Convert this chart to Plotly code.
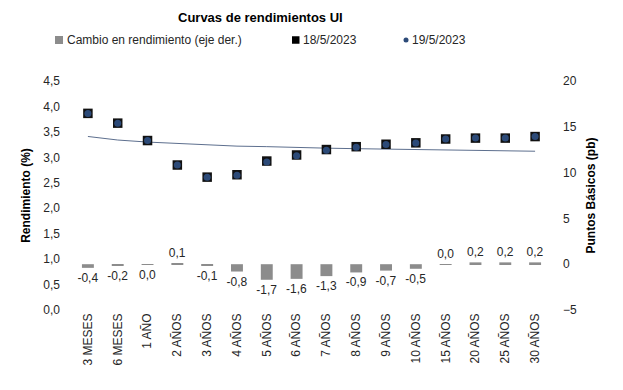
import plotly.graph_objects as go

categorias = ["3 MESES", "6 MESES", "1 AÑO", "2 AÑOS", "3 AÑOS", "4 AÑOS", "5 AÑOS",
              "6 AÑOS", "7 AÑOS", "8 AÑOS", "9 AÑOS", "10 AÑOS", "15 AÑOS",
              "20 AÑOS", "25 AÑOS", "30 AÑOS"]
rend_18 = [3.864, 3.672, 3.330, 2.849, 2.611, 2.658, 2.927, 3.046, 3.153, 3.209,
           3.257, 3.285, 3.360, 3.378, 3.378, 3.408]
rend_19 = [3.860, 3.670, 3.330, 2.850, 2.610, 2.650, 2.910, 3.030, 3.140, 3.200,
           3.250, 3.280, 3.360, 3.380, 3.380, 3.410]
tendencia = [3.41, 3.34, 3.30, 3.27, 3.24, 3.22, 3.21, 3.19, 3.18, 3.17, 3.16,
             3.15, 3.14, 3.13, 3.13, 3.12]
cambio_pb = [-0.4, -0.2, -0.01, 0.1, -0.1, -0.8, -1.7, -1.6, -1.3, -0.9, -0.7,
             -0.5, 0.02, 0.2, 0.2, 0.2]
leyenda = ["Cambio en rendimiento (eje der.)", "18/5/2023", "19/5/2023"]

FONT = "Liberation Sans, Arial, sans-serif"
TXT = "#262626"
GRIS = "#8c8c8c"
AZUL = "#2c4a78"

fig = go.Figure()
fig.add_trace(go.Bar(
    x=categorias, y=cambio_pb, yaxis="y2", name=leyenda[0],
    marker=dict(color=GRIS, line=dict(width=0)),
    text=[f"{v:.1f}".replace(".", ",").replace("-0,0", "0,0") for v in cambio_pb],
    textposition="outside", cliponaxis=False, constraintext="none",
    textfont=dict(family=FONT, size=12, color=TXT),
    width=0.4, showlegend=False))
fig.add_trace(go.Scatter(
    x=categorias, y=tendencia, mode="lines", showlegend=False, hoverinfo="skip",
    line=dict(color="#5d6f8e", width=1)))
fig.add_trace(go.Scatter(
    x=categorias, y=rend_18, mode="markers", name=leyenda[1], showlegend=False,
    marker=dict(symbol="square", size=9.5, color="#111111")))
fig.add_trace(go.Scatter(
    x=categorias, y=rend_19, mode="markers", name=leyenda[2], showlegend=False,
    marker=dict(symbol="circle", size=7, color=AZUL)))

# the page body adds an 8px offset; positions below are screen pixels minus it
W, H = 623, 390
OX, OY = 8, 8
L, R, T, B = 73 - OX, W - 550 + OX, 81 - OY, H - 310 + OY
pw, ph = W - L - R, H - T - B

def cx(x):
    return (x - OX - L) / pw
def cy(y):
    return (H - B - (y - OY)) / ph

ly = 40
shapes = [
    dict(type="rect", xref="paper", yref="paper", x0=cx(55), x1=cx(63), y0=cy(ly + 4), y1=cy(ly - 4),
         fillcolor=GRIS, line=dict(width=0)),
    dict(type="rect", xref="paper", yref="paper", x0=cx(292), x1=cx(299.5), y0=cy(ly + 3.75), y1=cy(ly - 3.75),
         fillcolor="#000000", line=dict(width=0)),
    dict(type="circle", xref="paper", yref="paper", x0=cx(403.5), x1=cx(408.5), y0=cy(ly + 2.5), y1=cy(ly - 2.5),
         fillcolor=AZUL, line=dict(width=0)),
]
annots = []
for txt, x in zip(leyenda, [65, 301, 410]):
    annots.append(dict(text=txt, xref="paper", yref="paper", x=cx(x), y=cy(ly),
                       xanchor="left", yanchor="middle", showarrow=False,
                       font=dict(family=FONT, size=12, color=TXT)))
annots.append(dict(text="<b>Curvas de rendimientos UI</b>", xref="paper", yref="paper",
                   x=cx(260), y=cy(18), xanchor="center", yanchor="middle", showarrow=False,
                   font=dict(family=FONT, size=13, color="#000000")))

fig.update_layout(
    width=W, height=H,
    separators=",.",
    paper_bgcolor="white", plot_bgcolor="white",
    font=dict(family=FONT, size=12, color=TXT),
    margin=dict(l=L, r=R, t=T, b=B),
    showlegend=False,
    shapes=shapes, annotations=annots,
    xaxis=dict(type="category", range=[-0.5, 15.5], tickangle=-90, showgrid=False,
               showline=False, zeroline=False, ticks="", automargin=False,
               tickfont=dict(family=FONT, size=12, color=TXT)),
    yaxis=dict(range=[0, 4.5], dtick=0.5, tick0=0, tickformat=".1f", showgrid=False,
               showline=False, zeroline=False, ticks="", ticklabelstandoff=12,
               automargin=False,
               tickfont=dict(family=FONT, size=12, color=TXT),
               title=dict(text="<b>Rendimiento (%)</b>", standoff=10,
                          font=dict(family=FONT, size=12, color="#000000"))),
    yaxis2=dict(range=[-5, 20], dtick=5, tick0=0, overlaying="y", side="right",
                showgrid=False, showline=False, zeroline=False, ticks="",
                ticklabelstandoff=12, automargin=False,
                tickfont=dict(family=FONT, size=12, color=TXT),
                title=dict(text="<b>Puntos Básicos (pb)</b>", standoff=10,
                           font=dict(family=FONT, size=12, color="#000000"))),
    bargap=0.6,
)

fig.write_html("out.html")
